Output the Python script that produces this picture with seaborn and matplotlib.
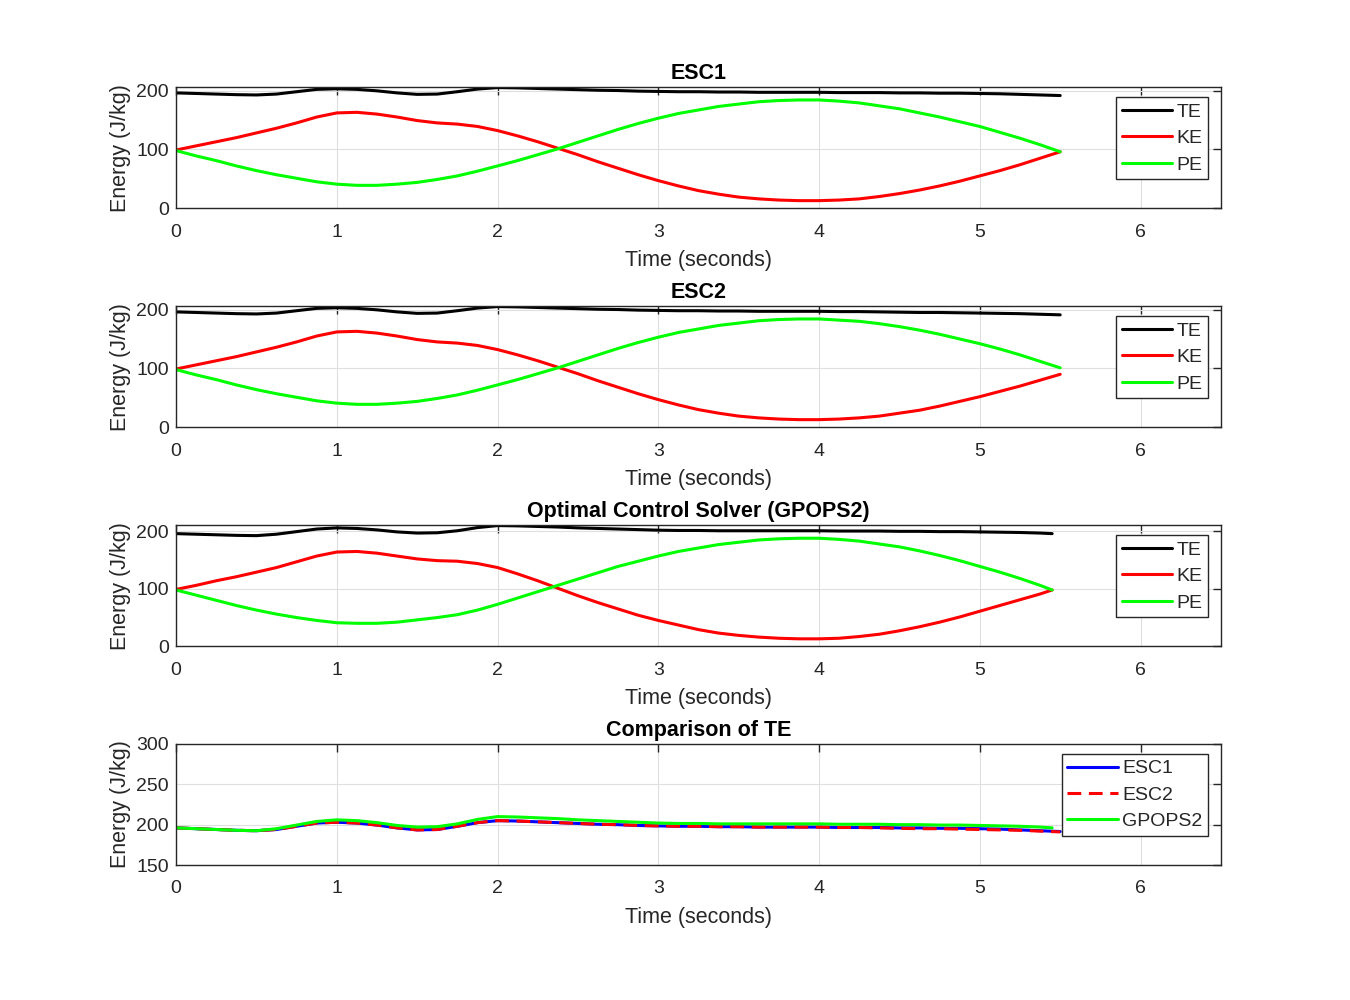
import numpy as np
import pandas as pd
import matplotlib
matplotlib.use('Agg')
import matplotlib.pyplot as plt
import seaborn as sns

# sample times (s), 0.125 s steps
t_esc = list(np.arange(0, 5.5001, 0.125))
t_gpops = list(np.arange(0, 5.3751, 0.125)) + [5.45]

# ESC1 energies (J/kg)
te_esc1 = [196, 195, 194, 193, 192.5, 194, 198, 202, 203, 202, 199.5, 196,
           193.5, 194, 198, 202.5, 205, 204.5, 203.5, 202.5, 201.5, 200.5, 200,
           199, 198.5, 198, 198, 197.5, 197.5, 197, 197, 197, 197, 196.5,
           196.5, 196.5, 196, 196, 195.5, 195.5, 195, 194.5, 193.5, 192.5, 191.5]
ke_esc1 = [99, 106, 113, 120, 128, 136, 145, 155, 162, 163, 160, 155,
           149, 145, 143, 139, 132, 123, 113, 102, 91, 79, 68,
           57, 47, 38, 30, 24, 19, 16, 14, 13, 13, 14,
           16, 20, 25, 31, 38, 46, 55, 64, 74, 85, 96]
pe_esc1 = [98, 89, 81, 72, 64, 57, 51, 45, 41, 39, 39, 41,
           44, 49, 55, 63, 72, 81, 91, 101, 112, 123, 134,
           144, 153, 161, 167, 173, 177, 181, 183, 184, 184, 182,
           179, 174, 169, 162, 155, 147, 139, 129, 119, 108, 96]

# ESC2 energies (J/kg)
te_esc2 = [196, 195, 194, 193, 192.5, 194, 198, 202, 203, 202, 199.5, 196,
           193.5, 194, 198, 202.5, 205, 204.5, 203.5, 202.5, 201.5, 200.5, 200,
           199, 198.5, 198, 198, 197.5, 197.5, 197, 197, 197, 197, 196.5,
           196.5, 196, 195.5, 195, 195, 194.5, 194, 193.5, 193, 192, 191]
ke_esc2 = [99, 106, 113, 120, 128, 136, 145, 155, 162, 163, 160, 155,
           149, 145, 143, 139, 132, 123, 113, 102, 91, 79, 68,
           57, 47, 38, 30, 24, 19, 16, 14, 13, 13, 14,
           16, 19, 24, 29, 36, 44, 52, 61, 70, 80, 90]
pe_esc2 = [98, 89, 81, 72, 64, 57, 51, 45, 41, 39, 39, 41,
           44, 49, 55, 63, 72, 81, 91, 101, 112, 123, 134,
           144, 153, 161, 167, 173, 177, 181, 183, 184, 184, 182,
           180, 176, 171, 165, 158, 150, 142, 133, 123, 112, 101]

# GPOPS2 energies (J/kg)
te_gpops = [196, 195, 194, 193, 192.5, 195, 199.5, 204, 206, 205, 202.5, 199,
            197, 197.5, 201, 206.5, 210, 209.5, 208.5, 207.5, 206, 205, 204,
            203, 202, 201.5, 201.5, 201, 201, 201, 201, 201, 201, 200.5,
            200.5, 200.5, 200, 200, 199.5, 199.5, 199, 198.5, 198, 197, 196]
ke_gpops = [99, 106, 114, 121, 129, 137, 147, 157, 164, 165, 162, 157,
            152, 149, 148, 144, 137, 126, 114, 101, 88, 76, 65,
            54, 45, 37, 29, 23, 19, 16, 14, 13, 13, 14,
            17, 21, 27, 34, 42, 51, 61, 71, 81, 91, 98]
pe_gpops = [98, 89, 80, 71, 63, 56, 50, 45, 41, 40, 40, 42,
            46, 50, 55, 63, 73, 84, 95, 106, 117, 128, 139,
            148, 157, 165, 171, 177, 181, 185, 187, 188, 188, 186,
            183, 178, 173, 166, 158, 149, 139, 129, 118, 106, 98]

TXT = '#262626'
GRID = '#dfdfdf'

sns.set_style('white')
plt.rcParams['font.family'] = ['Liberation Sans', 'DejaVu Sans']
plt.rcParams['text.color'] = TXT
plt.rcParams['axes.labelcolor'] = TXT


def style_axes(ax, title):
    ax.set_xlim(0, 6.5)
    ax.set_xticks([0, 1, 2, 3, 4, 5, 6])
    ax.grid(True, color=GRID, lw=0.8)
    ax.set_axisbelow(True)
    for s in ax.spines.values():
        s.set_visible(True)
        s.set_color(TXT)
        s.set_linewidth(1.0)
    ax.tick_params(direction='in', length=6, width=1, top=True, right=True,
                   colors=TXT, labelsize=14)
    ax.tick_params(axis='x', pad=11)
    ax.tick_params(axis='y', pad=5)
    ax.set_xlabel('Time (seconds)', fontsize=15.5, labelpad=7)
    ax.set_ylabel('Energy (J/kg)', fontsize=15.5, labelpad=4)
    ax.set_title(title, fontsize=15.5, fontweight='bold', color='black', pad=6)


def add_legend(ax):
    leg = ax.legend(loc='upper right', bbox_to_anchor=(0.9876, 0.917),
                    borderaxespad=0, fontsize=14, frameon=True, fancybox=False,
                    edgecolor=TXT, framealpha=1, handlelength=2.6,
                    handletextpad=0.2, labelspacing=0.45, borderpad=0.3)
    leg.get_frame().set_linewidth(1.0)
    for txt in leg.get_texts():
        txt.set_color(TXT)


def energy_panel(ax, t, te, ke, pe, title):
    df = pd.DataFrame({'Time': t, 'TE': te, 'KE': ke, 'PE': pe})
    df = df.melt('Time', var_name='Series', value_name='Energy')
    sns.lineplot(data=df, x='Time', y='Energy', hue='Series',
                 palette={'TE': 'black', 'KE': '#ff0000', 'PE': '#00ff00'},
                 lw=2.2, ax=ax)
    ax.set_ylim(0, max(te) + 0.5)
    ax.set_yticks([0, 100, 200])
    style_axes(ax, title)
    add_legend(ax)


fig = plt.figure(figsize=(13.5, 10), dpi=100)
left, width, height = 0.1304, 0.774, 0.121
bottoms = [0.7917, 0.5727, 0.3537, 0.135]
axes = [fig.add_axes([left, b, width, height]) for b in bottoms]

energy_panel(axes[0], t_esc, te_esc1, ke_esc1, pe_esc1, 'ESC1')
energy_panel(axes[1], t_esc, te_esc2, ke_esc2, pe_esc2, 'ESC2')
energy_panel(axes[2], t_gpops, te_gpops, ke_gpops, pe_gpops,
             'Optimal Control Solver (GPOPS2)')

# comparison of total energy
cmp_df = pd.concat([
    pd.DataFrame({'Time': t_esc, 'Energy': te_esc1, 'Series': 'ESC1'}),
    pd.DataFrame({'Time': t_esc, 'Energy': te_esc2, 'Series': 'ESC2'}),
    pd.DataFrame({'Time': t_gpops, 'Energy': te_gpops, 'Series': 'GPOPS2'}),
])
ax = axes[3]
sns.lineplot(data=cmp_df, x='Time', y='Energy', hue='Series', style='Series',
             palette={'ESC1': '#0000ff', 'ESC2': '#ff0000', 'GPOPS2': '#00ff00'},
             dashes={'ESC1': '', 'ESC2': (4.5, 2.5), 'GPOPS2': ''},
             lw=2.2, ax=ax)
ax.set_ylim(150, 300)
ax.set_yticks([150, 200, 250, 300])
style_axes(ax, 'Comparison of TE')
add_legend(ax)

fig.savefig('out.png', dpi=100, facecolor='white')
